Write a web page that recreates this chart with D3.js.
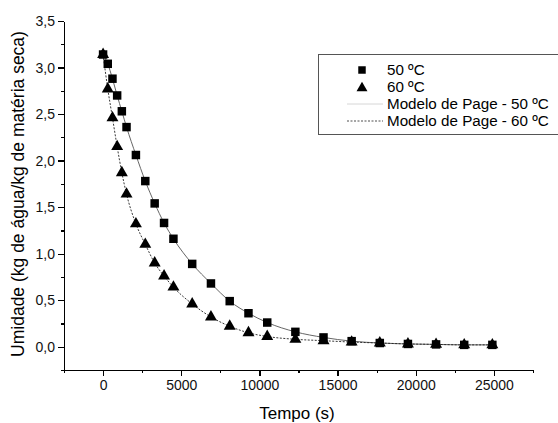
<!DOCTYPE html>
<html>
<head>
<meta charset="utf-8">
<title>Cinética de secagem</title>
<style>
  body { margin: 0; background: #fff; }
  text { font-family: "Liberation Sans", Arial, sans-serif; fill: #000; }
  .axis path, .axis line { stroke: #000; stroke-width: 1.3px; shape-rendering: crispEdges; }
  .axis text { font-size: 14px; fill: #111; }
</style>
</head>
<body>
<div id="chart"></div>
<script src="https://d3js.org/d3.v7.min.js"></script>
<script>
  // tempo (s) dos pontos experimentais
  var tempo = [0, 300, 600, 900, 1200, 1500, 2100, 2700, 3300, 3900, 4500, 5700,
               6900, 8100, 9300, 10500, 12300, 14100, 15900, 17700, 19500, 21300, 23100, 24900];

  // umidade (kg de água/kg de matéria seca)
  var umid50 = [3.14, 3.04, 2.88, 2.70, 2.53, 2.36, 2.06, 1.78, 1.54, 1.33, 1.16, 0.89,
                0.68, 0.49, 0.36, 0.26, 0.16, 0.10, 0.06, 0.04, 0.03, 0.025, 0.02, 0.02];
  var umid60 = [3.14, 2.77, 2.46, 2.15, 1.87, 1.64, 1.32, 1.10, 0.90, 0.76, 0.64, 0.46,
                0.32, 0.22, 0.15, 0.11, 0.08, 0.065, 0.05, 0.04, 0.03, 0.025, 0.02, 0.02];

  var xTicks = [0, 5000, 10000, 15000, 20000, 25000];
  var yTicks = [0, 0.5, 1.0, 1.5, 2.0, 2.5, 3.0, 3.5];
  var legendLabels = ["50 ºC", "60 ºC", "Modelo de Page - 50 ºC", "Modelo de Page - 60 ºC"];

  var width = 558, height = 423;

  var svg = d3.select("#chart").append("svg")
      .attr("width", width)
      .attr("height", height);

  var x = d3.scaleLinear().domain([-2500, 27500]).range([64, 533]);
  var y = d3.scaleLinear().domain([-0.25, 3.5]).range([370, 21]);

  var fmt = function (d) { return d3.format(".1f")(d).replace(".", ","); };

  // minor ticks
  var xMinor = d3.range(-2500, 27501, 2500).filter(function (d) { return xTicks.indexOf(d) < 0; });
  var yMinor = d3.range(-0.25, 3.51, 0.5);

  svg.append("g")
      .attr("class", "axis")
      .attr("transform", "translate(0,370)")
      .call(d3.axisBottom(x).tickValues(xMinor).tickSize(3).tickFormat(""))
      .call(function (g) { g.select(".domain").remove(); });

  svg.append("g")
      .attr("class", "axis")
      .attr("transform", "translate(64,0)")
      .call(d3.axisLeft(y).tickValues(yMinor).tickSize(3).tickFormat(""))
      .call(function (g) { g.select(".domain").remove(); });

  svg.append("g")
      .attr("class", "axis")
      .attr("transform", "translate(0,370)")
      .call(d3.axisBottom(x).tickValues(xTicks).tickSize(6).tickSizeOuter(0).tickPadding(4).tickFormat(d3.format("d")));

  svg.append("g")
      .attr("class", "axis")
      .attr("transform", "translate(64,0)")
      .call(d3.axisLeft(y).tickValues(yTicks).tickSize(6).tickSizeOuter(0).tickPadding(3).tickFormat(fmt));

  // curvas do modelo
  var line50 = d3.line()
      .x(function (d, i) { return x(tempo[i]); })
      .y(function (d) { return y(d); })
      .curve(d3.curveMonotoneX);

  svg.append("path")
      .datum(umid50)
      .attr("d", line50)
      .attr("fill", "none")
      .attr("stroke", "#555")
      .attr("stroke-width", 0.9);

  svg.append("path")
      .datum(umid60)
      .attr("d", line50)
      .attr("fill", "none")
      .attr("stroke", "#222")
      .attr("stroke-width", 0.9)
      .attr("stroke-dasharray", "2,1.5");

  // pontos experimentais
  var sq = d3.symbol().type(d3.symbolSquare).size(72);
  var tri = d3.symbol().type(d3.symbolTriangle).size(62);

  svg.append("g").selectAll("path")
      .data(umid50)
      .enter().append("path")
      .attr("d", sq)
      .attr("transform", function (d, i) { return "translate(" + x(tempo[i]) + "," + y(d) + ")"; })
      .attr("fill", "#000");

  svg.append("g").selectAll("path")
      .data(umid60)
      .enter().append("path")
      .attr("d", tri)
      .attr("transform", function (d, i) { return "translate(" + x(tempo[i]) + "," + y(d) + ")"; })
      .attr("fill", "#000");

  // títulos dos eixos
  svg.append("text")
      .attr("x", 297)
      .attr("y", 419)
      .attr("text-anchor", "middle")
      .style("font-size", "17px")
      .text("Tempo (s)");

  svg.append("text")
      .attr("transform", "translate(24,194) rotate(-90)")
      .attr("text-anchor", "middle")
      .style("font-size", "17.5px")
      .text("Umidade (kg de água/kg de matéria seca)");

  // legenda
  var legend = svg.append("g");
  legend.append("rect")
      .attr("x", 318.5).attr("y", 54.5)
      .attr("width", 260).attr("height", 80)
      .attr("fill", "#fff")
      .attr("stroke", "#555")
      .attr("stroke-width", 1);

  var rowY = function (i) { return 70 + i * 17; };

  legend.append("path").attr("d", sq.size(56)).attr("transform", "translate(362," + rowY(0) + ")");
  legend.append("path").attr("d", tri.size(52)).attr("transform", "translate(362," + (rowY(1) + 1) + ")");
  legend.append("line")
      .attr("x1", 347).attr("x2", 383).attr("y1", rowY(2)).attr("y2", rowY(2))
      .attr("stroke", "#ccc").attr("stroke-width", 0.8);
  legend.append("line")
      .attr("x1", 347).attr("x2", 383).attr("y1", rowY(3)).attr("y2", rowY(3))
      .attr("stroke", "#222").attr("stroke-width", 0.8).attr("stroke-dasharray", "2,1.5");

  legend.selectAll("text.lab")
      .data(legendLabels)
      .enter().append("text")
      .attr("class", "lab")
      .attr("x", 387)
      .attr("y", function (d, i) { return rowY(i) + 5; })
      .style("font-size", "15.2px")
      .text(function (d) { return d; });
</script>
</body>
</html>
